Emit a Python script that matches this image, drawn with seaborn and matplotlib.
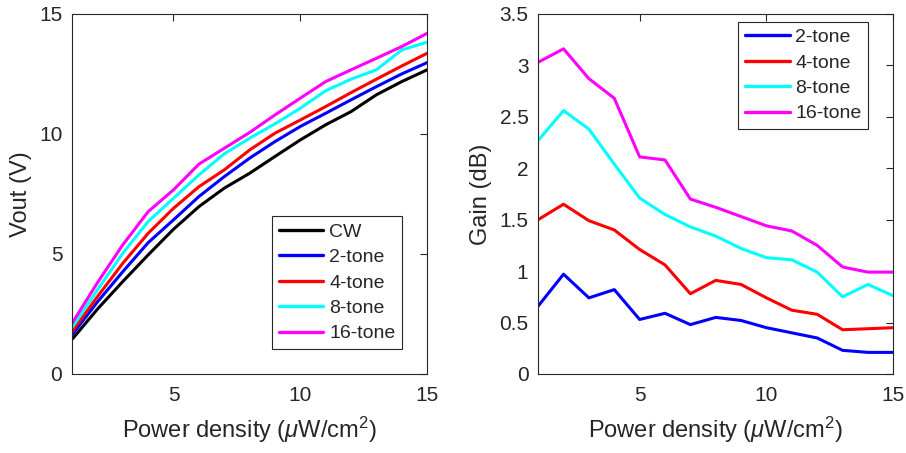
import numpy as np
import pandas as pd
import matplotlib
matplotlib.use("Agg")
import matplotlib.pyplot as plt
import seaborn as sns

# --- DATA ---
power = [1, 2, 3, 4, 5, 6, 7, 8, 9, 10, 11, 12, 13, 14, 15]

vout_cw = [1.44, 2.7, 3.85, 4.96, 6.03, 6.97, 7.74, 8.36, 9.06, 9.75, 10.38, 10.93, 11.63, 12.18, 12.67]
vout_2 = [1.63, 3.0, 4.26, 5.47, 6.42, 7.39, 8.22, 8.99, 9.68, 10.31, 10.86, 11.42, 11.97, 12.5, 12.97]
vout_4 = [1.76, 3.22, 4.61, 5.86, 6.9, 7.8, 8.5, 9.33, 10.03, 10.58, 11.14, 11.72, 12.28, 12.83, 13.36]
vout_8 = [1.93, 3.5, 5.03, 6.35, 7.32, 8.29, 9.17, 9.82, 10.42, 11.07, 11.8, 12.28, 12.67, 13.5, 13.82]
vout_16 = [2.11, 3.8, 5.38, 6.76, 7.67, 8.74, 9.4, 10.06, 10.79, 11.49, 12.18, 12.67, 13.15, 13.64, 14.19]

gain_2 = [0.66, 0.97, 0.74, 0.82, 0.53, 0.59, 0.48, 0.55, 0.52, 0.45, 0.40, 0.35, 0.23, 0.21, 0.21]
gain_4 = [1.50, 1.65, 1.49, 1.40, 1.21, 1.06, 0.78, 0.91, 0.87, 0.74, 0.62, 0.58, 0.43, 0.44, 0.45]
gain_8 = [2.27, 2.56, 2.38, 2.04, 1.71, 1.55, 1.43, 1.34, 1.22, 1.13, 1.11, 0.99, 0.75, 0.87, 0.76]
gain_16 = [3.03, 3.16, 2.87, 2.68, 2.11, 2.08, 1.70, 1.62, 1.53, 1.44, 1.39, 1.25, 1.04, 0.99, 0.99]

colors = {"CW": "black", "2-tone": "blue", "4-tone": "red", "8-tone": "cyan", "16-tone": "magenta"}

# --- build long tables for seaborn ---
def to_long(series, value_name):
    frames = []
    for name, vals in series.items():
        frames.append(pd.DataFrame({"power": power, value_name: vals, "signal": name}))
    return pd.concat(frames, ignore_index=True)

vout_df = to_long({"CW": vout_cw, "2-tone": vout_2, "4-tone": vout_4,
                   "8-tone": vout_8, "16-tone": vout_16}, "vout")
gain_df = to_long({"2-tone": gain_2, "4-tone": gain_4,
                   "8-tone": gain_8, "16-tone": gain_16}, "gain")

# --- STYLE ---
sns.set_style("white")
plt.rcParams["font.family"] = ["Liberation Sans", "DejaVu Sans"]
plt.rcParams["mathtext.fontset"] = "custom"
plt.rcParams["mathtext.rm"] = "Liberation Sans"
plt.rcParams["mathtext.it"] = "Liberation Sans:italic"
plt.rcParams["font.size"] = 15
dark = "#262626"

fig = plt.figure(figsize=(9.06, 4.53), dpi=100)
ax1 = fig.add_axes([0.0795, 0.1744, 0.392, 0.795])
ax2 = fig.add_axes([0.594, 0.1744, 0.392, 0.795])

sns.lineplot(data=vout_df, x="power", y="vout", hue="signal", palette=colors,
             linewidth=2.2, ax=ax1)
sns.lineplot(data=gain_df, x="power", y="gain", hue="signal",
             palette={k: colors[k] for k in ["2-tone", "4-tone", "8-tone", "16-tone"]},
             linewidth=2.2, ax=ax2)

xlabel = r"Power density ($\mu$W/cm$^2$)"
ax1.set_xlim(1, 15)
ax1.set_ylim(0, 15)
ax1.set_xticks([5, 10, 15])
ax1.set_yticks([0, 5, 10, 15])
ax1.set_xlabel(xlabel, color=dark, fontsize=17, labelpad=7)
ax1.set_ylabel("Vout (V)", color=dark, fontsize=17, labelpad=5)

ax2.set_xlim(1, 15)
ax2.set_ylim(0, 3.5)
ax2.set_xticks([5, 10, 15])
yt = [0, 0.5, 1, 1.5, 2, 2.5, 3, 3.5]
ax2.set_yticks(yt)
ax2.set_yticklabels([f"{v:g}" for v in yt])
ax2.set_xlabel(xlabel, color=dark, fontsize=17, labelpad=7)
ax2.set_ylabel("Gain (dB)", color=dark, fontsize=17, labelpad=5)

for ax in (ax1, ax2):
    ax.tick_params(direction="in", top=True, right=True, length=5, width=0.8,
                   colors=dark, labelsize=15)
    ax.tick_params(axis="x", pad=9)
    ax.tick_params(axis="y", pad=7)
    for sp in ax.spines.values():
        sp.set_color(dark)
        sp.set_linewidth(0.8)

leg_kw = dict(fontsize=14, handlelength=2.3, handletextpad=0.3, labelspacing=0.4,
              borderpad=0.35, borderaxespad=0, fancybox=False, edgecolor=dark,
              framealpha=1)
leg1 = ax1.legend(loc="lower right", bbox_to_anchor=(0.93, 0.069), **leg_kw)
leg2 = ax2.legend(loc="upper right", bbox_to_anchor=(0.93, 0.978), **leg_kw)
for leg in (leg1, leg2):
    leg.get_frame().set_linewidth(0.8)
    for line in leg.get_lines():
        line.set_linewidth(2.4)

fig.savefig("out.png", dpi=100)
